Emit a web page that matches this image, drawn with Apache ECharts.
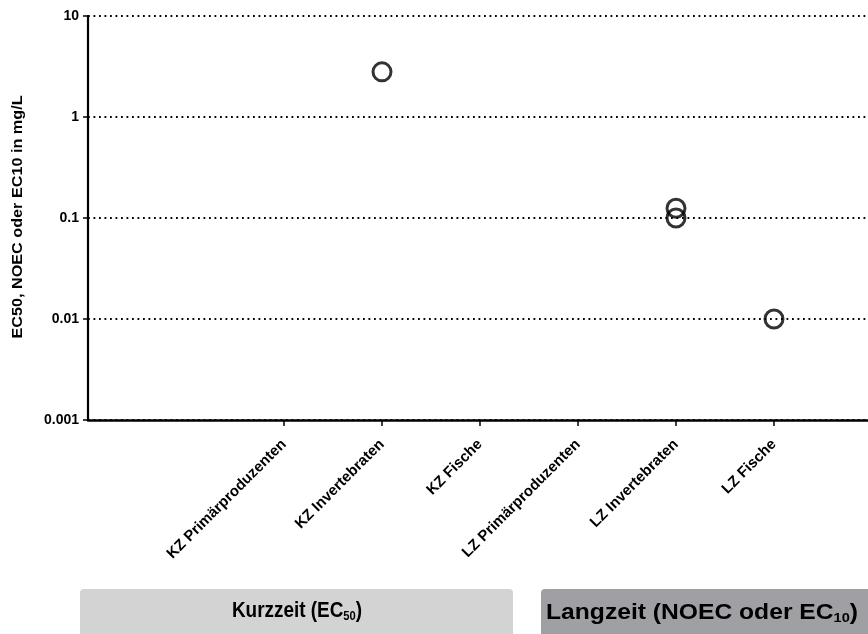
<!DOCTYPE html>
<html>
<head>
<meta charset="utf-8">
<script src="https://cdn.jsdelivr.net/npm/echarts@6/dist/echarts.min.js"></script>
<style>
  html, body { margin: 0; padding: 0; background: #fff; }
  #chart { width: 868px; height: 634px; }
</style>
</head>
<body>
<div id="chart"></div>
<script>
// Test groups shown along the x axis
const categories = ['KZ Primärproduzenten', 'KZ Invertebraten', 'KZ Fische',
                    'LZ Primärproduzenten', 'LZ Invertebraten', 'LZ Fische'];
// Empty slots before and after the groups on the x axis
const leadingSlots = ['_a', '_b'];
const trailingSlots = ['_z'];

// Individual endpoint values (mg/L) with the group they belong to
const pointGroup = ['KZ Invertebraten', 'LZ Invertebraten', 'LZ Invertebraten', 'LZ Fische'];
const pointValue = [2.8, 0.125, 0.1, 0.01];

// Log-scale tick labels
const yTicks = [0.001, 0.01, 0.1, 1, 10];
const yTickLabels = ['0.001', '0.01', '0.1', '1', '10'];

const yTitle = 'EC50, NOEC oder EC10 in mg/L';

const FONT = "'Liberation Sans', Arial, Helvetica, sans-serif";

const axisSlots = leadingSlots.concat(categories, trailingSlots);
const isSlot = v => v.charAt(0) === '_';
const scatterData = pointGroup.map((g, i) => [axisSlots.indexOf(g), pointValue[i]]);

const chart = echarts.init(document.getElementById('chart'), null, { renderer: 'canvas' });

chart.setOption({
  backgroundColor: '#fff',
  animation: false,
  grid: { left: 88, top: 16, width: 784, height: 404, containLabel: false, outerBoundsMode: 'none' },
  xAxis: {
    type: 'category',
    data: axisSlots,
    boundaryGap: false,
    axisLine: { show: true, onZero: false, lineStyle: { color: '#000', width: 2.5 } },
    axisTick: {
      show: true,
      length: 6,
      interval: (idx, v) => !isSlot(v),
      lineStyle: { color: '#000', width: 1.5 }
    },
    axisLabel: {
      interval: (idx, v) => !isSlot(v),
      formatter: v => (isSlot(v) ? '' : v),
      rotate: 45,
      margin: 22,
      color: '#000',
      fontFamily: FONT,
      fontWeight: 'bold',
      fontSize: 15
    },
    splitLine: { show: false }
  },
  yAxis: {
    type: 'log',
    logBase: 10,
    min: yTicks[0],
    max: yTicks[yTicks.length - 1],
    axisLine: { show: true, lineStyle: { color: '#000', width: 2.2 } },
    axisTick: { show: true, length: 5, lineStyle: { color: '#000', width: 1.5 } },
    axisLabel: {
      margin: 9,
      color: '#000',
      fontFamily: FONT,
      fontWeight: 'bold',
      fontSize: 14,
      formatter: v => {
        const k = Math.round(Math.log10(v));
        const idx = yTicks.findIndex(t => Math.round(Math.log10(t)) === k);
        return idx >= 0 ? yTickLabels[idx] : '';
      }
    },
    splitLine: {
      show: true,
      lineStyle: { color: '#000', width: 1.8, type: [1.8, 3.7] }
    }
  },
  series: [{
    type: 'scatter',
    data: scatterData,
    symbol: 'circle',
    symbolSize: 18,
    itemStyle: { color: 'rgba(0,0,0,0)', borderColor: '#000', borderWidth: 3 },
    emphasis: { disabled: true },
    z: 5
  }],
  graphic: [
    {
      type: 'text',
      x: 18, y: 217,
      rotation: Math.PI / 2,
      scaleX: 1.08,
      style: {
        text: yTitle,
        fill: '#000',
        font: 'bold 15px ' + FONT,
        align: 'center',
        verticalAlign: 'middle'
      }
    },
    {
      type: 'rect',
      shape: { x: 80, y: 589, width: 433, height: 50, r: 4 },
      style: { fill: '#d3d3d3' }
    },
    {
      type: 'rect',
      shape: { x: 541, y: 589, width: 340, height: 50, r: 4 },
      style: { fill: '#a0a0a4' }
    },
    {
      type: 'text',
      x: 297, y: 611,
      scaleX: 0.86,
      style: {
        text: '{a|Kurzzeit (EC}{s|50}{a|)}',
        align: 'center',
        verticalAlign: 'middle',
        rich: {
          a: { fontFamily: FONT, fontWeight: 'bold', fontSize: 22, fill: '#000', lineHeight: 26 },
          s: { fontFamily: FONT, fontWeight: 'bold', fontSize: 13, fill: '#000', padding: [11, 0, 0, 0], lineHeight: 26 }
        }
      }
    },
    {
      type: 'text',
      x: 702, y: 613,
      scaleX: 1.12,
      style: {
        text: '{a|Langzeit (NOEC oder EC}{s|10}{a|)}',
        align: 'center',
        verticalAlign: 'middle',
        rich: {
          a: { fontFamily: FONT, fontWeight: 'bold', fontSize: 22, fill: '#000', lineHeight: 26 },
          s: { fontFamily: FONT, fontWeight: 'bold', fontSize: 13, fill: '#000', padding: [11, 0, 0, 0], lineHeight: 26 }
        }
      }
    }
  ]
});
</script>
</body>
</html>
